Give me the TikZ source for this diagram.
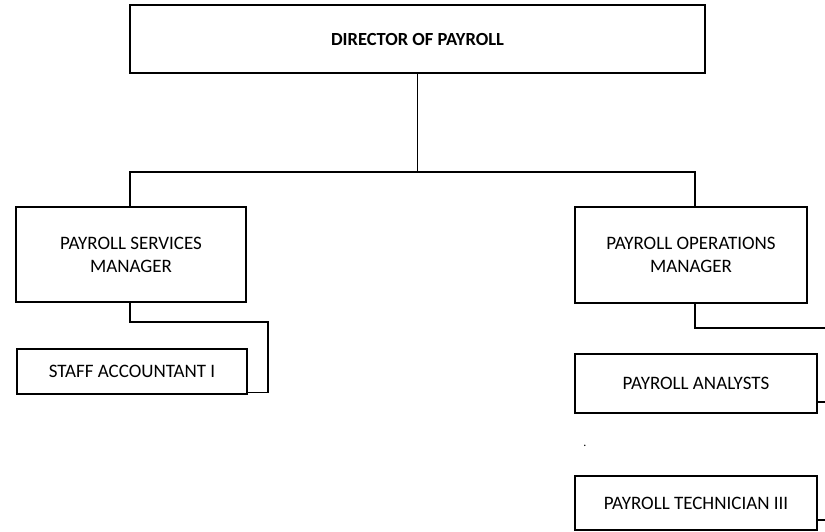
\documentclass[tikz,border=0pt]{standalone}
\usepackage{fontspec}
\setmainfont{Carlito}
\usetikzlibrary{positioning, calc}

\begin{document}
\begin{tikzpicture}[x=1pt, y=-1pt,
  role/.style={draw, line width=1.2pt, align=center, inner sep=0pt,
               font=\fontsize{19}{23}\selectfont},
  link/.style={line width=1.2pt},
]
  \useasboundingbox (0,0) rectangle (825,531);

  \node[role, minimum width=575pt, minimum height=68pt,
        font=\fontsize{18.5}{23}\selectfont\bfseries] (dir) at (417.5,39) {DIRECTOR OF PAYROLL};
  \node[role, minimum width=230pt, minimum height=95pt] (svc) at (131,254.5) {PAYROLL SERVICES\\MANAGER};
  \node[role, minimum width=232pt, minimum height=96pt] (ops) at (691,255) {PAYROLL OPERATIONS\\MANAGER};
  \node[role, minimum width=230pt, minimum height=45pt] (staff) at (132,371.5) {STAFF ACCOUNTANT I};
  \node[role, minimum width=242pt, minimum height=59pt] (ana) at (696,383.5) {PAYROLL ANALYSTS};
  \node[role, minimum width=242pt, minimum height=54pt] (tech) at (696,503) {PAYROLL TECHNICIAN III};
  \node[font=\fontsize{12}{12}\selectfont] (dot) at (585,446) {.};

  % Bus under the director
  \coordinate (busL) at (130,172);
  \coordinate (busR) at (695,172);
  \draw[link] (dir.south) -- (dir.south |- busL);
  \draw[link] (svc.north -| busL) -- (busL) -- (busR) -- (ops.north -| busR);

  % Services side
  \coordinate (svcbend) at (268,322);
  \draw[link] (svc.south -| busL) |- (svcbend) |- ($(staff.south east)+(0,-2)$);

  % Operations side, running off the right edge
  \coordinate (opsout) at (825,328);
  \coordinate (anaout) at (825,402);
  \coordinate (techout) at (825,520);
  \draw[link] (ops.south -| busR) |- (opsout);
  \draw[link] (ana.east |- anaout) -- (anaout);
  \draw[link] (tech.east |- techout) -- (techout);
\end{tikzpicture}
\end{document}
